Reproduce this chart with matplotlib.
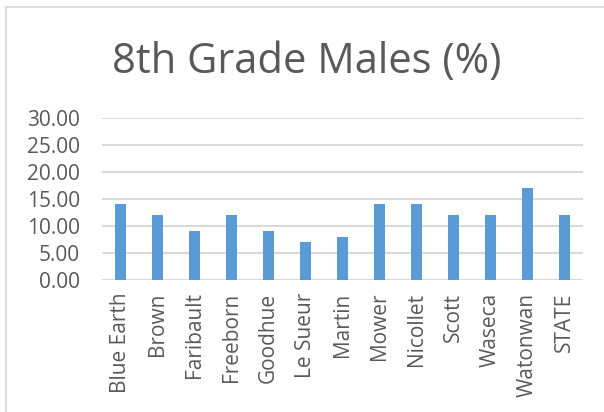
import matplotlib.pyplot as plt
from matplotlib.patches import Rectangle

counties = ["Blue Earth", "Brown", "Faribault", "Freeborn", "Goodhue", "Le Sueur", "Martin",
            "Mower", "Nicollet", "Scott", "Waseca", "Watonwan", "STATE"]
males_pct = [14, 12, 9, 12, 9, 7, 8, 14, 14, 12, 12, 17, 12]
y_ticks = [0, 5, 10, 15, 20, 25, 30]

plt.rcParams["font.family"] = ["Open Sans", "DejaVu Sans"]
text_color = "#595959"

fig = plt.figure(figsize=(6.04, 4.12), dpi=100)
ax = fig.add_axes([102 / 604, 1 - 280 / 412, 481 / 604, 162 / 412])

# chart border (only left and top show in the picture)
border = Rectangle((6 / 604, -0.1), 1.2, 1 - 7 / 412 + 0.1, transform=fig.transFigure,
                   fill=False, edgecolor="#d9d9d9", linewidth=1.2)
fig.patches.append(border)

x = range(len(counties))
ax.bar(x, males_pct, width=0.3, color="#5b9bd5", zorder=3)

ax.set_xlim(-0.5, len(counties) - 0.5)
ax.set_ylim(0, 30)
ax.set_yticks(y_ticks)
ax.set_yticklabels([f"{v:.2f}" for v in y_ticks])
ax.set_xticks(list(x))
ax.set_xticklabels(counties, rotation=90)
ax.yaxis.grid(True, color="#d9d9d9", linewidth=1.5, zorder=0)
ax.tick_params(axis="both", length=0, labelsize=15, labelcolor=text_color)
ax.tick_params(axis="y", pad=16)
ax.tick_params(axis="x", pad=9)
for s in ax.spines.values():
    s.set_visible(False)

fig.text(307 / 604, 1 - 62 / 412, "8th Grade Males (%)", ha="center", va="center",
         fontsize=30, color=text_color)

fig.savefig("out.png", dpi=100)
